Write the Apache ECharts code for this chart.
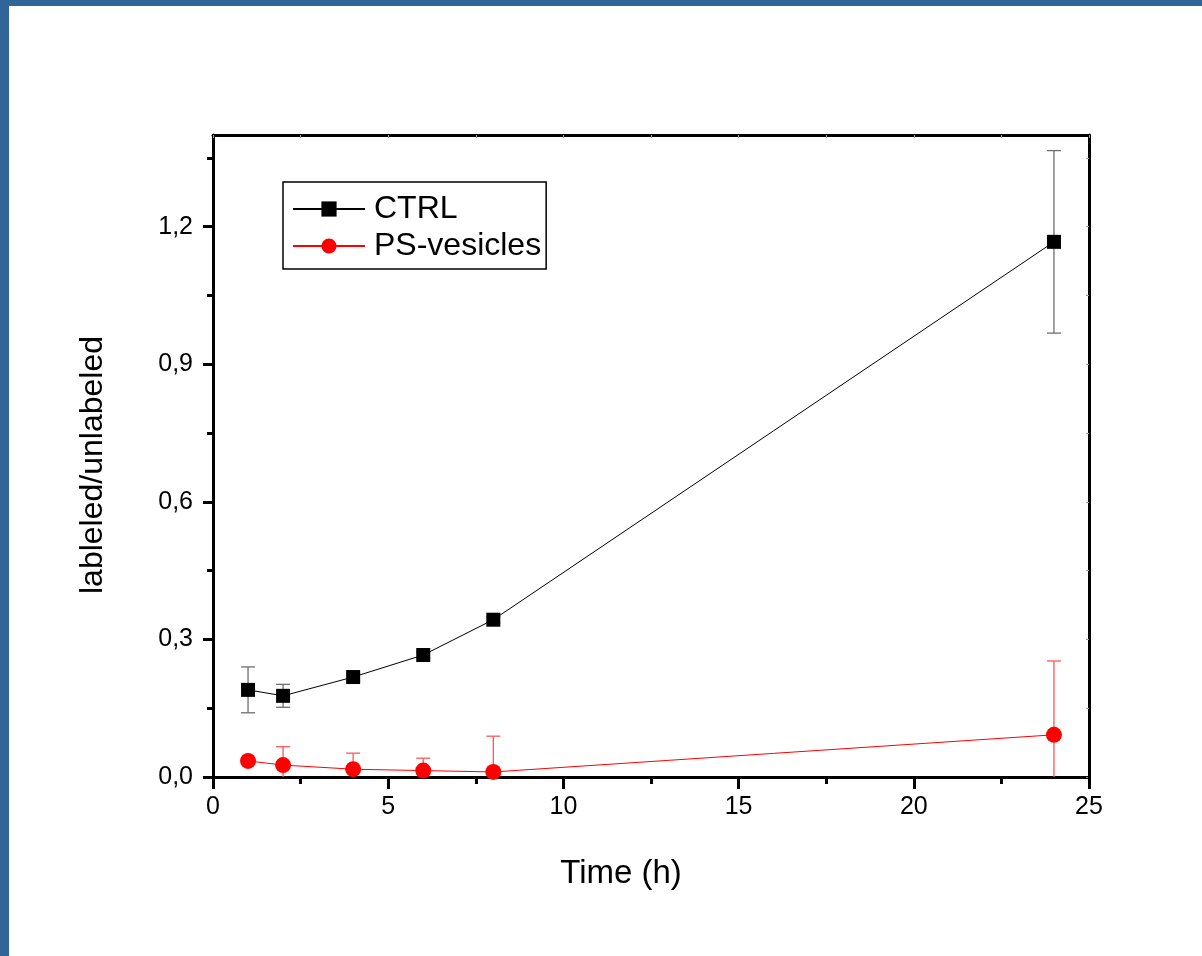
<!DOCTYPE html>
<html>
<head>
<meta charset="utf-8">
<script src="https://cdn.jsdelivr.net/npm/echarts@6/dist/echarts.min.js"></script>
<style>
html,body{margin:0;padding:0;background:#fff;}
#c{width:1202px;height:956px;}
</style>
</head>
<body>
<div id="c"></div>
<script>
// ---- data ----
const timeH = [1, 2, 4, 6, 8, 24];
const ctrlVals = [0.190, 0.177, 0.218, 0.266, 0.343, 1.167];
const ctrlErr  = [0.050, 0.025, 0.008, 0.006, 0.006, 0.199];
const psVals   = [0.035, 0.026, 0.017, 0.014, 0.011, 0.092];
const psErr    = [0.004, 0.040, 0.035, 0.027, 0.078, 0.161];
const xTickValues = [0, 5, 10, 15, 20, 25];
const yTickValues = [0, 0.3, 0.6, 0.9, 1.2];
const yTickLabels = ['0,0', '0,3', '0,6', '0,9', '1,2'];
const yMinorValues = [0.15, 0.45, 0.75, 1.05, 1.35];
const seriesNames = ['CTRL', 'PS-vesicles'];

const FONT = '"Liberation Sans", Arial, sans-serif';

function pairs(xs, ys) { return xs.map((x, i) => [x, ys[i]]); }
function triples(xs, ys, es) { return xs.map((x, i) => [x, ys[i], es[i]]); }

function errRender(color) {
  return function (params, api) {
    const x = api.value(0), y = api.value(1), e = api.value(2);
    const yMin = 0;
    const hiP = api.coord([x, y + e]);
    const lowRaw = y - e;
    const clipped = lowRaw < yMin;
    const loP = api.coord([x, clipped ? yMin : lowRaw]);
    const half = 7;
    const style = { stroke: color, lineWidth: 1.3 };
    const children = [
      { type: 'line', shape: { x1: hiP[0], y1: hiP[1], x2: loP[0], y2: loP[1] }, style: style },
      { type: 'line', shape: { x1: hiP[0] - half, y1: hiP[1], x2: hiP[0] + half, y2: hiP[1] }, style: style }
    ];
    if (!clipped) {
      children.push({ type: 'line', shape: { x1: loP[0] - half, y1: loP[1], x2: loP[0] + half, y2: loP[1] }, style: style });
    }
    return { type: 'group', children: children };
  };
}

const chart = echarts.init(document.getElementById('c'), null, { renderer: 'canvas' });

const axisLineStyle = { color: '#000', width: 3 };

const option = {
  backgroundColor: '#fff',
  animation: false,
  graphic: [
    { type: 'rect', left: 0, top: 0, shape: { width: 1202, height: 6 }, style: { fill: '#31659a' }, z: 100 },
    { type: 'rect', left: 0, top: 0, shape: { width: 9, height: 956 }, style: { fill: '#31659a' }, z: 100 }
  ],
  grid: { left: 213, top: 135, width: 876, height: 642, containLabel: false },
  legend: {
    orient: 'vertical',
    left: 283,
    top: 182,
    data: seriesNames,
    itemWidth: 72,
    itemHeight: 19,
    itemGap: 3,
    borderColor: '#000',
    borderWidth: 1.5,
    padding: [10, 5, 6, 9],
    textStyle: { fontFamily: FONT, fontSize: 32, color: '#000', lineHeight: 34, padding: [0, 0, 0, 4] }
  },
  xAxis: [
    {
      type: 'value', position: 'bottom', min: 0, max: 25, interval: 5,
      axisLine: { show: true, onZero: false, lineStyle: axisLineStyle },
      axisTick: { show: true, inside: false, length: 12, lineStyle: { color: '#000', width: 3 } },
      minorTick: { show: true, splitNumber: 2, length: 7, lineStyle: { color: '#000', width: 3 } },
      splitLine: { show: false },
      axisLabel: { show: true, margin: 18, fontFamily: FONT, fontSize: 25, color: '#000',
        customValues: xTickValues, formatter: v => String(v) },
      name: 'Time (h)', nameLocation: 'middle', nameGap: 80,
      nameTextStyle: { fontFamily: FONT, fontSize: 33, color: '#000', padding: [0, 60, 0, 0] }
    },
    {
      type: 'value', position: 'top', min: 0, max: 25, interval: 2.5,
      axisLine: { show: true, onZero: false, lineStyle: axisLineStyle },
      axisTick: { show: true, inside: true, length: 3, lineStyle: { color: '#999', width: 1 } },
      axisLabel: { show: false }, splitLine: { show: false }
    }
  ],
  yAxis: [
    {
      type: 'value', position: 'left', min: 0, max: 1.4,
      axisLine: { show: true, onZero: false, lineStyle: axisLineStyle },
      axisTick: { show: true, inside: false, length: 10, customValues: yTickValues, lineStyle: { color: '#000', width: 3 } },
      splitLine: { show: false },
      axisLabel: { show: true, margin: 20, fontFamily: FONT, fontSize: 25, color: '#000',
        customValues: yTickValues,
        formatter: v => { const i = yTickValues.findIndex(t => Math.abs(t - v) < 1e-6); return i >= 0 ? yTickLabels[i] : ''; } },
      name: 'lableled/unlabeled', nameLocation: 'middle', nameGap: 104,
      nameTextStyle: { fontFamily: FONT, fontSize: 32, color: '#000', padding: [0, 18, 0, 0] }
    },
    {
      type: 'value', position: 'left', min: 0, max: 1.4,
      axisLine: { show: false },
      axisTick: { show: true, inside: false, length: 6, customValues: yMinorValues, lineStyle: { color: '#000', width: 3 } },
      axisLabel: { show: false }, splitLine: { show: false }
    },
    {
      type: 'value', position: 'right', min: 0, max: 1.4,
      axisLine: { show: true, onZero: false, lineStyle: axisLineStyle },
      axisTick: { show: true, inside: true, length: 3, customValues: yTickValues.concat(yMinorValues), lineStyle: { color: '#999', width: 1 } },
      axisLabel: { show: false }, splitLine: { show: false }
    }
  ],
  series: [
    {
      type: 'custom', name: 'ctrlErr', xAxisIndex: 0, yAxisIndex: 0, z: 1,
      renderItem: errRender('#6e6e6e'),
      data: triples(timeH, ctrlVals, ctrlErr), encode: { x: 0, y: 1 }, silent: true
    },
    {
      type: 'custom', name: 'psErr', xAxisIndex: 0, yAxisIndex: 0, z: 1,
      renderItem: errRender('#ff5555'),
      data: triples(timeH, psVals, psErr), encode: { x: 0, y: 1 }, silent: true
    },
    {
      type: 'line', name: seriesNames[0], xAxisIndex: 0, yAxisIndex: 0, z: 3,
      data: pairs(timeH, ctrlVals),
      symbol: 'rect', symbolSize: 14, showAllSymbol: true,
      lineStyle: { color: '#000', width: 1 },
      itemStyle: { color: '#000' },
      emphasis: { disabled: true }
    },
    {
      type: 'line', name: seriesNames[1], xAxisIndex: 0, yAxisIndex: 0, z: 3,
      data: pairs(timeH, psVals),
      symbol: 'circle', symbolSize: 16, showAllSymbol: true,
      lineStyle: { color: '#ff0000', width: 1 },
      itemStyle: { color: '#ff0000' },
      emphasis: { disabled: true }
    }
  ]
};
chart.setOption(option);
</script>
</body>
</html>
